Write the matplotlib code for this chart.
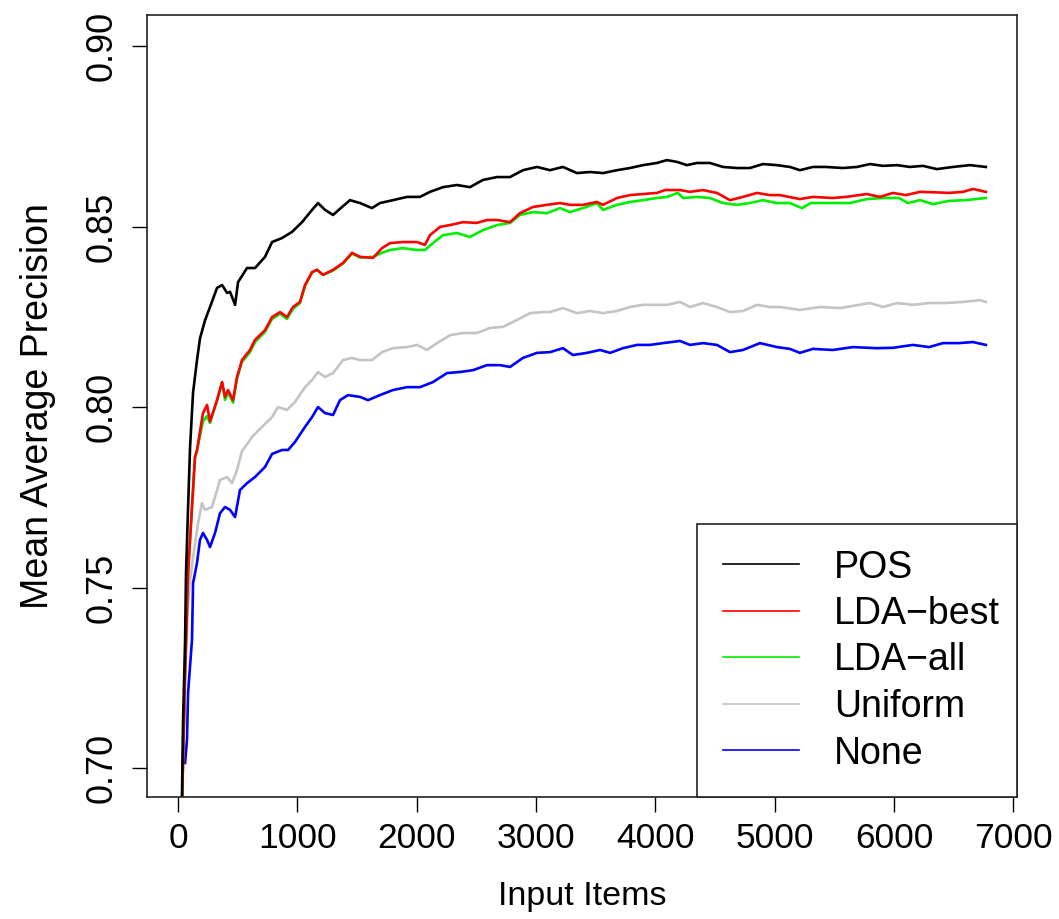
import matplotlib
matplotlib.use("Agg")
import matplotlib.pyplot as plt
from matplotlib.ticker import FixedLocator, FormatStrFormatter
from matplotlib.lines import Line2D

plt.rcParams['font.family'] = ['Liberation Sans', 'DejaVu Sans']

# ---------------- data ----------------
pos_x = [30, 42, 59, 67, 84, 101, 126, 159, 184, 226, 268, 327, 369, 411, 436, 478, 503, 578, 645,
         729, 788, 871, 955, 1039, 1123, 1173, 1232, 1299, 1374, 1441, 1525, 1625, 1692, 1801, 1919,
         2027, 2111, 2220, 2337, 2446, 2555, 2673, 2782, 2890, 3008, 3117, 3225, 3343, 3452, 3561,
         3678, 3787, 3896, 4013, 4097, 4181, 4264, 4348, 4457, 4566, 4683, 4792, 4901, 5018, 5127,
         5211, 5320, 5429, 5571, 5689, 5798, 5907, 6024, 6133, 6242, 6359, 6493, 6635, 6769]
pos_y = [0.685, 0.713, 0.735, 0.754, 0.772, 0.789, 0.804, 0.813, 0.819, 0.824, 0.8277, 0.833, 0.8338,
         0.8316, 0.8319, 0.8283, 0.8346, 0.8385, 0.8385, 0.8416, 0.8457, 0.8468, 0.8485, 0.8512,
         0.8546, 0.8565, 0.8546, 0.8532, 0.8554, 0.8573, 0.8565, 0.8551, 0.8565, 0.8573, 0.8582,
         0.8582, 0.8596, 0.8609, 0.8615, 0.8609, 0.8629, 0.8637, 0.8637, 0.8656, 0.8665, 0.8656,
         0.8665, 0.8648, 0.8651, 0.8648, 0.8656, 0.8662, 0.8670, 0.8676, 0.8684, 0.8679, 0.8670,
         0.8676, 0.8676, 0.8665, 0.8662, 0.8662, 0.8673, 0.8670, 0.8665, 0.8656, 0.8665, 0.8665,
         0.8662, 0.8665, 0.8673, 0.8668, 0.8670, 0.8665, 0.8668, 0.8659, 0.8665, 0.8670, 0.8665]

best_x = [30, 59, 84, 117, 142, 159, 209, 243, 268, 327, 369, 394, 419, 461, 494, 536, 603, 645, 729,
          788, 855, 913, 963, 1022, 1064, 1123, 1165, 1215, 1299, 1382, 1458, 1525, 1634, 1709, 1776,
          1885, 2002, 2069, 2111, 2195, 2279, 2388, 2505, 2589, 2673, 2782, 2865, 2974, 3092, 3200,
          3284, 3393, 3510, 3561, 3678, 3787, 3896, 4013, 4080, 4206, 4290, 4398, 4516, 4625, 4734,
          4851, 4960, 5044, 5211, 5320, 5487, 5597, 5772, 5882, 5990, 6099, 6217, 6326, 6460, 6577,
          6660, 6769]
best_y = [0.685, 0.7263, 0.754, 0.7723, 0.7861, 0.7880, 0.7983, 0.8006, 0.7960, 0.8019, 0.8069,
          0.8028, 0.8047, 0.8019, 0.8083, 0.8130, 0.8158, 0.8186, 0.8213, 0.8249, 0.8263, 0.8249,
          0.8277, 0.8291, 0.8338, 0.8374, 0.8380, 0.8366, 0.8380, 0.8399, 0.8427, 0.8416, 0.8413,
          0.8440, 0.8454, 0.8457, 0.8457, 0.8449, 0.8476, 0.8499, 0.8504, 0.8512, 0.8510, 0.8518,
          0.8518, 0.8512, 0.8537, 0.8554, 0.8560, 0.8565, 0.8560, 0.8560, 0.8568, 0.8560, 0.8579,
          0.8587, 0.8590, 0.8593, 0.8601, 0.8601, 0.8596, 0.8601, 0.8593, 0.8573, 0.8582, 0.8593,
          0.8587, 0.8587, 0.8576, 0.8582, 0.8579, 0.8582, 0.8590, 0.8582, 0.8593, 0.8587, 0.8596,
          0.8595, 0.8593, 0.8596, 0.8604, 0.8596]

all_x = [30, 59, 84, 117, 142, 159, 209, 243, 268, 327, 369, 394, 419, 461, 494, 536, 603, 645, 729,
         788, 855, 913, 963, 1022, 1064, 1123, 1165, 1215, 1299, 1382, 1458, 1525, 1634, 1709, 1776,
         1885, 2002, 2069, 2136, 2220, 2337, 2446, 2555, 2673, 2782, 2865, 2974, 3092, 3200, 3284,
         3393, 3510, 3561, 3678, 3787, 3896, 4013, 4097, 4189, 4231, 4348, 4457, 4566, 4683, 4792,
         4901, 5018, 5127, 5228, 5302, 5471, 5630, 5772, 5907, 6041, 6116, 6217, 6326, 6460, 6602,
         6769]
all_y = [0.685, 0.7263, 0.754, 0.7723, 0.7861, 0.7880, 0.7960, 0.7975, 0.7956, 0.8019, 0.8069,
         0.8020, 0.8040, 0.8012, 0.8078, 0.8125, 0.8152, 0.8180, 0.8208, 0.8244, 0.8258, 0.8244,
         0.8272, 0.8288, 0.8335, 0.8372, 0.8380, 0.8366, 0.8378, 0.8397, 0.8425, 0.8414, 0.8416,
         0.8427, 0.8435, 0.8440, 0.8435, 0.8435, 0.8454, 0.8476, 0.8482, 0.8471, 0.8490, 0.8504,
         0.8510, 0.8532, 0.8540, 0.8537, 0.8551, 0.8540, 0.8551, 0.8565, 0.8546, 0.8560, 0.8568,
         0.8573, 0.8579, 0.8582, 0.8593, 0.8579, 0.8582, 0.8579, 0.8565, 0.8560, 0.8565, 0.8573,
         0.8565, 0.8565, 0.8551, 0.8565, 0.8565, 0.8565, 0.8576, 0.8579, 0.8579, 0.8565, 0.8573,
         0.8562, 0.8571, 0.8573, 0.8579]

unif_x = [30, 59, 84, 101, 126, 168, 201, 226, 285, 310, 352, 411, 452, 494, 536, 586, 620, 704, 788,
          838, 913, 980, 1064, 1123, 1173, 1232, 1299, 1382, 1458, 1525, 1625, 1709, 1801, 1919, 2002,
          2086, 2170, 2279, 2388, 2505, 2614, 2723, 2840, 2949, 3058, 3117, 3225, 3343, 3452, 3561,
          3678, 3787, 3896, 4013, 4097, 4206, 4290, 4398, 4516, 4625, 4734, 4851, 4960, 5044, 5211,
          5380, 5546, 5798, 5907, 6024, 6158, 6293, 6427, 6577, 6719, 6769]
unif_y = [0.685, 0.727, 0.745, 0.752, 0.7584, 0.7679, 0.7734, 0.7715, 0.7723, 0.7751, 0.7798, 0.7806,
          0.7789, 0.7825, 0.7878, 0.7900, 0.7917, 0.7945, 0.7972, 0.8000, 0.7992, 0.8014, 0.8055,
          0.8075, 0.8097, 0.8083, 0.8094, 0.8130, 0.8136, 0.8130, 0.8130, 0.8152, 0.8163, 0.8166,
          0.8172, 0.8158, 0.8177, 0.8199, 0.8205, 0.8205, 0.8219, 0.8222, 0.8241, 0.8260, 0.8263,
          0.8263, 0.8274, 0.8260, 0.8266, 0.8260, 0.8266, 0.8277, 0.8283, 0.8283, 0.8283, 0.8291,
          0.8277, 0.8288, 0.8277, 0.8263, 0.8266, 0.8283, 0.8277, 0.8277, 0.8269, 0.8277, 0.8274,
          0.8288, 0.8277, 0.8288, 0.8283, 0.8288, 0.8288, 0.8291, 0.8296, 0.8291]

none_x = [59, 75, 84, 117, 126, 159, 184, 209, 243, 268, 310, 352, 394, 436, 478, 519, 578, 645, 729,
          788, 871, 922, 980, 1064, 1123, 1173, 1232, 1299, 1357, 1424, 1525, 1592, 1692, 1801, 1919,
          2027, 2136, 2254, 2363, 2471, 2589, 2698, 2782, 2890, 3008, 3117, 3225, 3309, 3427, 3536,
          3620, 3728, 3846, 3954, 4063, 4206, 4290, 4398, 4516, 4625, 4734, 4876, 5018, 5127, 5211,
          5320, 5487, 5655, 5851, 5990, 6158, 6293, 6410, 6544, 6660, 6769]
none_y = [0.7014, 0.7078, 0.7208, 0.7355, 0.7512, 0.7568, 0.7632, 0.7651, 0.7632, 0.7612, 0.7651,
          0.7706, 0.7723, 0.7715, 0.7695, 0.7770, 0.7789, 0.7806, 0.7834, 0.7870, 0.7881, 0.7881,
          0.7903, 0.7945, 0.7972, 0.8000, 0.7983, 0.7978, 0.8019, 0.8033, 0.8028, 0.8019, 0.8033,
          0.8047, 0.8055, 0.8055, 0.8069, 0.8094, 0.8097, 0.8102, 0.8116, 0.8116, 0.8111, 0.8136,
          0.8150, 0.8152, 0.8163, 0.8144, 0.8150, 0.8158, 0.8150, 0.8163, 0.8172, 0.8172, 0.8177,
          0.8183, 0.8172, 0.8177, 0.8172, 0.8152, 0.8158, 0.8177, 0.8166, 0.8161, 0.8150, 0.8161,
          0.8158, 0.8166, 0.8163, 0.8164, 0.8172, 0.8166, 0.8177, 0.8177, 0.8180, 0.8172]

series_labels = ["POS", "LDA\u2212best", "LDA\u2212all", "Uniform", "None"]
series_colors = ["#000000", "#FF0000", "#00EE00", "#C4C4C4", "#0000FF"]
x_ticks = [0, 1000, 2000, 3000, 4000, 5000, 6000, 7000]
y_ticks = [0.70, 0.75, 0.80, 0.85, 0.90]

# ---------------- figure ----------------
fig = plt.figure(figsize=(10.59, 9.19), dpi=100)
ax = fig.add_axes([147 / 1059, 1 - 797 / 919, (1017 - 147) / 1059, (797 - 15) / 919])

series = [(pos_x, pos_y), (best_x, best_y), (all_x, all_y), (unif_x, unif_y), (none_x, none_y)]
order = [3, 4, 2, 1, 0]
for i in order:
    xs, ys = series[i]
    ax.plot(xs, ys, color=series_colors[i], lw=1.9, label=series_labels[i])

ax.set_xlim(-260, 7030)
ax.set_ylim(0.69197, 0.90859)
ax.xaxis.set_major_locator(FixedLocator(x_ticks))
ax.yaxis.set_major_locator(FixedLocator(y_ticks))
ax.yaxis.set_major_formatter(FormatStrFormatter('%.2f'))

ax.tick_params(axis='both', direction='out', length=11, width=1.0, colors='black')
ax.tick_params(axis='x', pad=7, labelsize=25.5)
ax.tick_params(axis='y', pad=9, labelsize=26)
for lab in ax.get_yticklabels():
    lab.set_rotation(90)
    lab.set_va('center')
    lab.set_ha('right')

for sp in ax.spines.values():
    sp.set_linewidth(1.2)
    sp.set_color('#222222')

ax.set_xlabel("Input Items", fontsize=24.5, labelpad=19)
ax.set_ylabel("Mean Average Precision", fontsize=27, labelpad=20)

handles = [Line2D([], [], color=series_colors[i], lw=1.2) for i in range(5)]
x0 = (697 - 147) / 870
leg = ax.legend(handles, series_labels, loc='lower left', bbox_to_anchor=(x0, 0.0, 1.0 - x0, 0.5),
                mode='expand', borderaxespad=0.0, fontsize=27, frameon=True, fancybox=False,
                borderpad=0.68, labelspacing=0.28, handlelength=2.05, handletextpad=0.93)
leg.get_frame().set_edgecolor('#222222')
leg.get_frame().set_linewidth(1.2)
leg.get_frame().set_alpha(1.0)

fig.savefig("out.png", dpi=100)
